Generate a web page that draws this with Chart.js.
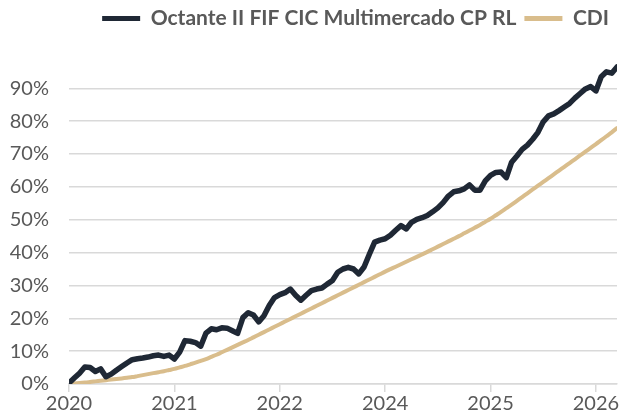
<!DOCTYPE html>
<html>
<head>
<meta charset="utf-8">
<script src="https://cdn.jsdelivr.net/npm/chart.js@4"></script>
<style>
    html, body { margin: 0; padding: 0; background: #fff; }
    #wrap { width: 621px; height: 419px; }
</style>
</head>
<body>
<div id="wrap"><canvas id="perfChart"></canvas></div>
<script>
/* -------- data -------- */
const yearLabels = ['2020', '2021', '2022', '2024', '2025', '2026'];
const pointsPerLabel = 20;

const seriesNames = ['Octante II FIF CIC Multimercado CP RL', 'CDI'];

const octante = [
    0.3, 1.8, 3.3, 5.2, 5.0, 3.8, 4.6, 2.2, 3.0, 4.2,
    5.3, 6.4, 7.4, 7.7, 7.9, 8.2, 8.6, 8.8, 8.4, 8.8,
    7.6, 9.7, 13.2, 13.0, 12.6, 11.5, 15.5, 16.8, 16.5, 17.1,
    17.0, 16.2, 15.4, 20.2, 21.7, 21.0, 18.9, 20.8, 23.9, 26.3,
    27.2, 27.8, 28.9, 27.0, 25.5, 27.0, 28.4, 28.9, 29.2, 30.4,
    31.5, 34.0, 35.0, 35.5, 35.0, 33.5, 35.6, 39.5, 43.2, 43.8,
    44.2, 45.3, 46.8, 48.2, 47.2, 49.2, 50.1, 50.6, 51.3, 52.4,
    53.6, 55.2, 57.2, 58.5, 58.8, 59.4, 60.6, 59.0, 59.0, 61.8,
    63.5, 64.4, 64.5, 62.8, 67.5, 69.4, 71.4, 72.7, 74.5, 76.6,
    79.8, 81.6, 82.2, 83.2, 84.3, 85.4, 87.0, 88.4, 89.8, 90.5,
    89.2, 93.5, 95.0, 94.6, 96.5,
];

const cdi = [
    0.0, 0.15, 0.3, 0.45, 0.6, 0.8, 1.0, 1.17, 1.35, 1.52,
    1.7, 1.9, 2.1, 2.4, 2.7, 3.0, 3.3, 3.6, 3.9, 4.25,
    4.6, 5.05, 5.5, 6.0, 6.5, 7.05, 7.6, 8.25, 8.9, 9.65,
    10.4, 11.15, 11.9, 12.65, 13.4, 14.2, 15.0, 15.8, 16.6, 17.4,
    18.2, 19.0, 19.8, 20.6, 21.4, 22.2, 23.0, 23.8, 24.6, 25.4,
    26.2, 27.0, 27.8, 28.6, 29.4, 30.2, 31.0, 31.8, 32.6, 33.4,
    34.2, 34.95, 35.7, 36.45, 37.2, 37.95, 38.7, 39.45, 40.2, 41.0,
    41.8, 42.6, 43.4, 44.2, 45.0, 45.85, 46.7, 47.55, 48.4, 49.35,
    50.3, 51.35, 52.4, 53.5, 54.6, 55.75, 56.9, 58.05, 59.2, 60.35,
    61.5, 62.65, 63.8, 64.95, 66.1, 67.25, 68.4, 69.55, 70.7, 71.85,
    73.0, 74.2, 75.4, 76.6, 77.9,
];

const yTicks = [0, 10, 20, 30, 40, 50, 60, 70, 80, 90];

/* -------- chart -------- */
const textColor = '#595959';
const gridColor = '#d9d9d9';
const fontFamily = 'Lato, "Open Sans", sans-serif';

function toPoints(values) {
    return values.map((v, i) => ({ x: i, y: v }));
}

const ctx = document.getElementById('perfChart').getContext('2d');
new Chart(ctx, {
    type: 'line',
    data: {
        datasets: [
            {
                label: seriesNames[0],
                data: toPoints(octante),
                borderColor: '#1f2835',
                backgroundColor: '#1f2835',
                borderWidth: 5.5,
                pointRadius: 0,
                tension: 0,
                borderJoinStyle: 'round',
                borderCapStyle: 'round',
            },
            {
                label: seriesNames[1],
                data: toPoints(cdi),
                borderColor: '#d9bd8c',
                backgroundColor: '#d9bd8c',
                borderWidth: 4,
                pointRadius: 0,
                tension: 0.3,
                borderCapStyle: 'round',
            },
        ],
    },
    options: {
        responsive: true,
        maintainAspectRatio: false,
        animation: false,
        layout: { padding: { left: 0, right: 4, top: 0, bottom: 3 } },
        plugins: {
            tooltip: { enabled: false },
            legend: {
                position: 'top',
                align: 'end',
                labels: {
                    color: textColor,
                    boxWidth: 38,
                    boxHeight: 5,
                    padding: 8,
                    font: { family: fontFamily, size: 21, weight: 'bold' },
                    generateLabels(chart) {
                        const items = Chart.defaults.plugins.legend.labels.generateLabels(chart);
                        items.forEach((it) => { it.lineWidth = 0; });
                        return items;
                    },
                },
            },
        },
        scales: {
            x: {
                type: 'linear',
                min: 0,
                max: octante.length - 1,
                afterBuildTicks(axis) {
                    axis.ticks = yearLabels.map((_, i) => ({ value: i * pointsPerLabel }));
                },
                ticks: {
                    color: textColor,
                    font: { family: fontFamily, size: 20 },
                    padding: 0,
                    maxRotation: 0,
                    callback: (v) => yearLabels[v / pointsPerLabel] || '',
                },
                grid: {
                    drawOnChartArea: false,
                    color: gridColor,
                    lineWidth: 1.5,
                    tickLength: 8,
                },
                border: { color: gridColor, width: 1.5 },
            },
            y: {
                min: 0,
                max: 105,
                afterBuildTicks(axis) {
                    axis.ticks = yTicks.map((v) => ({ value: v }));
                },
                afterFit(axis) {
                    axis.width = 69;
                },
                ticks: {
                    color: textColor,
                    font: { family: fontFamily, size: 20 },
                    padding: 20,
                    callback: (v) => v + '%',
                },
                grid: {
                    color: gridColor,
                    lineWidth: 1.5,
                    drawTicks: false,
                },
                border: { display: false },
            },
        },
    },
});
</script>
</body>
</html>
